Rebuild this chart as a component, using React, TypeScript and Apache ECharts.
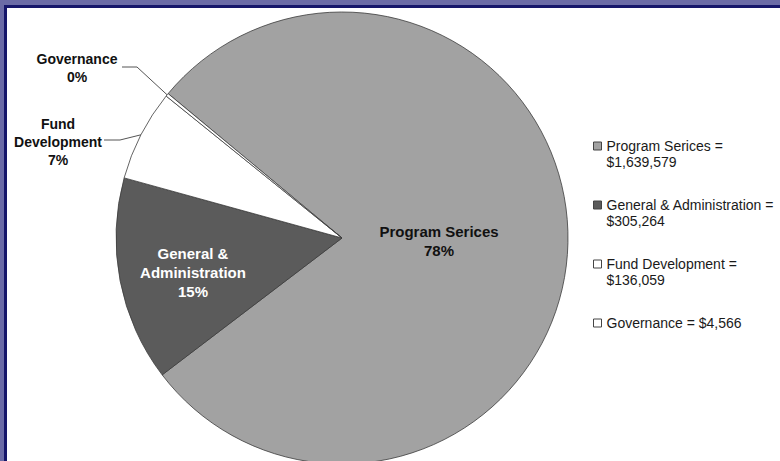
import React, { useEffect, useRef } from "react";
import * as echarts from "echarts";

// ---- data ----
const categories = ["Program Serices", "General & Administration", "Fund Development", "Governance"];
const amounts = [1639579, 305264, 136059, 4566];
const amountLabels = ["$1,639,579", "$305,264", "$136,059", "$4,566"];
const percentLabels = ["78%", "15%", "7%", "0%"];
const sliceLabels = ["Program Serices", "General &\nAdministration", "Fund\nDevelopment", "Governance"];
const legendLabels = [
  "Program Serices =\n$1,639,579",
  "General & Administration =\n$305,264",
  "Fund Development =\n$136,059",
  "Governance = $4,566",
];

const palette = ["#a2a2a2", "#5b5b5b", "#ffffff", "#ffffff"];
const FONT = "'Liberation Sans', Arial, Helvetica, sans-serif";

export default function App() {
  const ref = useRef<HTMLDivElement>(null);

  useEffect(() => {
    document.body.style.margin = "0";
    if (!ref.current) return;
    const chart = echarts.init(ref.current, undefined, { renderer: "svg" });

    const inside = [true, true, false, false];
    const labelColors = ["#111111", "#ffffff", "#111111", "#111111"];

    const data = categories.map((name, i) => ({
      name,
      value: amounts[i],
      itemStyle: { color: palette[i] },
      label: {
        position: inside[i] ? "inside" : "outside",
        color: labelColors[i],
        fontSize: inside[i] ? 15 : 14,
        lineHeight: inside[i] ? 19 : 18,
        formatter: () => `${sliceLabels[i]}\n${percentLabels[i]}`,
      },
      labelLine: { show: !inside[i] },
    }));

    // legend text: a blank first line keeps the icon level with the first text line
    const legendText = (name: string) => {
      const t = legendLabels[categories.indexOf(name)];
      return t.indexOf("\n") >= 0 ? ` \n${t}` : ` \n${t}\n `;
    };

    chart.setOption({
      animation: false,
      backgroundColor: "#ffffff",
      graphic: [
        { type: "rect", left: 0, top: 0, shape: { width: 780, height: 5 }, style: { fill: "#6b6ba6" }, silent: true },
        { type: "rect", left: 0, top: 0, shape: { width: 4, height: 461 }, style: { fill: "#6b6ba6" }, silent: true },
        { type: "rect", left: 4, top: 5, shape: { width: 776, height: 3 }, style: { fill: "#16166a" }, silent: true },
        { type: "rect", left: 4, top: 5, shape: { width: 3, height: 456 }, style: { fill: "#16166a" }, silent: true },
      ],
      legend: {
        orient: "vertical",
        left: 593,
        top: 122,
        padding: 0,
        itemGap: 11,
        itemWidth: 8,
        itemHeight: 8,
        icon: "rect",
        selectedMode: false,
        itemStyle: { borderColor: "#444444", borderWidth: 1 },
        textStyle: {
          fontFamily: FONT,
          fontSize: 14,
          lineHeight: 16,
          color: "#1a1a1a",
        },
        data: categories,
        formatter: legendText,
      },
      series: [
        {
          type: "pie",
          center: [342, 238],
          radius: 226,
          startAngle: 140.3,
          clockwise: true,
          avoidLabelOverlap: false,
          silent: true,
          itemStyle: { borderColor: "#3c3c3c", borderWidth: 0.8 },
          label: {
            fontFamily: FONT,
            fontWeight: "bold",
          },
          labelLine: { lineStyle: { color: "#555555", width: 1 } },
          labelLayout: (p: any) => {
            const edge = p.labelLinePoints ? p.labelLinePoints[0] : null;
            switch (p.dataIndex) {
              case 0:
                return { x: 439, y: 241, align: "center", verticalAlign: "middle" };
              case 1:
                return { x: 193, y: 272, align: "center", verticalAlign: "middle" };
              case 2:
                return {
                  x: 58,
                  y: 141.5,
                  align: "center",
                  verticalAlign: "middle",
                  labelLinePoints: edge ? [edge, [120, 140], [104, 140]] : undefined,
                };
              default:
                return {
                  x: 77,
                  y: 68,
                  align: "center",
                  verticalAlign: "middle",
                  labelLinePoints: edge ? [edge, [137, 67], [122, 67]] : undefined,
                };
            }
          },
          data,
        },
      ],
    });

    return () => chart.dispose();
  }, []);

  return <div ref={ref} style={{ position: "absolute", left: 0, top: 0, width: 780, height: 461 }} />;
}
